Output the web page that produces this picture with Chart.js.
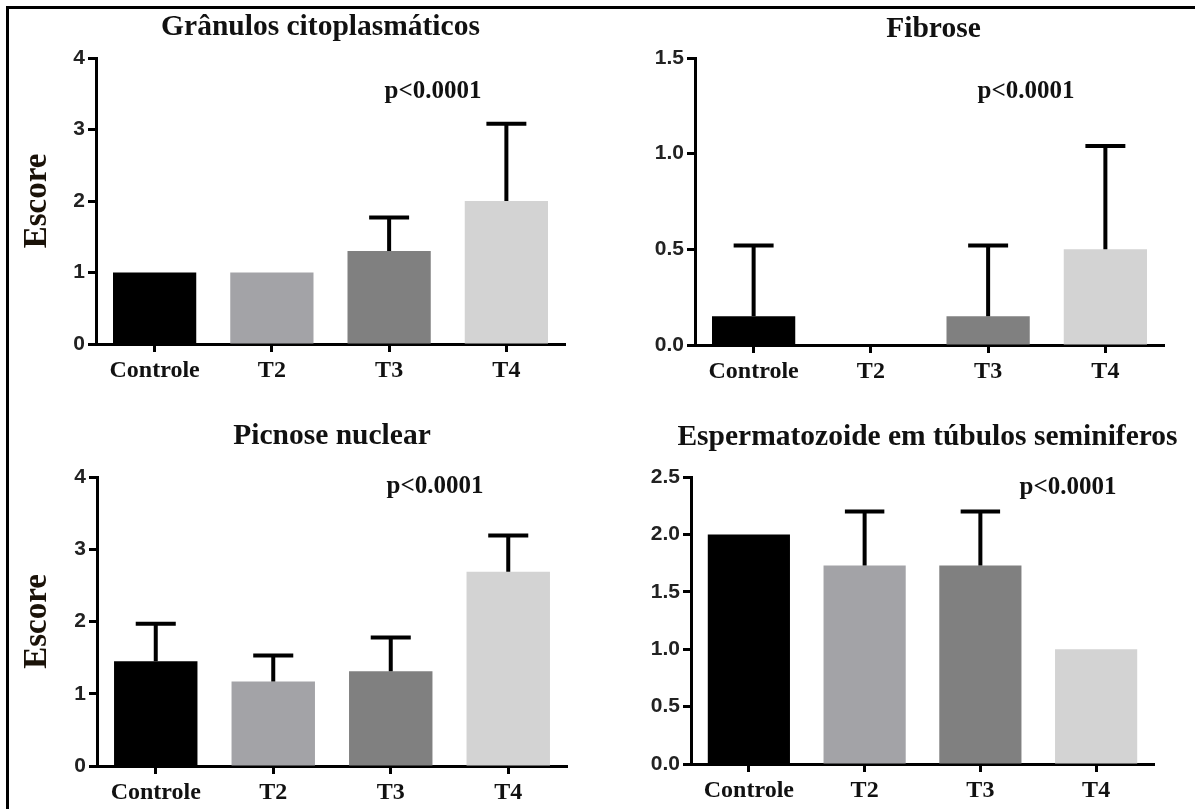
<!DOCTYPE html>
<html>
<head>
<meta charset="utf-8">
<script src="https://cdn.jsdelivr.net/npm/chart.js@4.4.1/dist/chart.umd.min.js"></script>
<style>
  html, body { margin: 0; padding: 0; background: #fff; }
  #fig { position: relative; width: 1195px; height: 809px; overflow: hidden; background: #fff; }
  #frame { position: absolute; left: 6px; top: 6px; width: 1200px; height: 820px;
           border-top: 3px solid #000; border-left: 3px solid #000; }
  canvas { position: absolute; }
</style>
</head>
<body>
<div id="fig">
  <div id="frame"></div>
  <canvas id="cGran" width="597" height="400" style="left:0px;top:0px"></canvas>
  <canvas id="cFib" width="598" height="400" style="left:597px;top:0px"></canvas>
  <canvas id="cPic" width="597" height="409" style="left:0px;top:400px"></canvas>
  <canvas id="cEsp" width="598" height="409" style="left:597px;top:400px"></canvas>
</div>
<script>
// Groups and scores (mean and mean + SD) for each histological finding
const categories = ['Controle', 'T2', 'T3', 'T4'];

const granulosMean = [1.0, 1.0, 1.3, 2.0];
const granulosUpper = [null, null, 1.77, 3.08];

const fibroseMean = [0.15, 0, 0.15, 0.5];
const fibroseUpper = [0.52, null, 0.52, 1.04];

const picnoseMean = [1.45, 1.17, 1.31, 2.69];
const picnoseUpper = [1.97, 1.53, 1.78, 3.19];

const espermMean = [2.0, 1.73, 1.73, 1.0];
const espermUpper = [null, 2.2, 2.2, null];

const ticksScore = [0, 1, 2, 3, 4];
const ticksFibrose = [0, 0.5, 1.0, 1.5];
const ticksEsperm = [0, 0.5, 1.0, 1.5, 2.0, 2.5];

const pLabel = 'p<0.0001';
const yTitle = 'Escore';

const barColors = ['#000000', '#a3a3a7', '#808080', '#d3d3d3'];

const SERIF = '"Liberation Serif", "Times New Roman", serif';
const SANS = '"Liberation Sans", Arial, sans-serif';

// Upward SD bars with a cap, placed through the chart's own scales
const errorBars = {
  id: 'errorBars',
  afterDatasetsDraw(chart, args, opts) {
    const meta = chart.getDatasetMeta(0);
    const y = chart.scales.y;
    const ctx = chart.ctx;
    const means = chart.data.datasets[0].data;
    ctx.save();
    ctx.strokeStyle = '#000';
    ctx.lineWidth = 4;
    ctx.lineCap = 'butt';
    opts.upper.forEach((u, i) => {
      if (u === null || u === undefined) return;
      const bar = meta.data[i];
      const x = bar.x;
      const y0 = y.getPixelForValue(means[i]);
      const y1 = y.getPixelForValue(u);
      const half = bar.width * 0.24;
      ctx.beginPath();
      ctx.moveTo(x, y0);
      ctx.lineTo(x, y1);
      ctx.moveTo(x - half, y1);
      ctx.lineTo(x + half, y1);
      ctx.stroke();
    });
    ctx.restore();
  }
};

// Panel heading, p-value note and the vertical axis caption
const panelText = {
  id: 'panelText',
  afterDraw(chart, args, opts) {
    const ctx = chart.ctx;
    const ca = chart.chartArea;
    ctx.save();
    ctx.fillStyle = '#111';
    ctx.textBaseline = 'alphabetic';
    ctx.textAlign = 'center';
    ctx.font = 'bold 29.5px ' + SERIF;
    ctx.fillText(opts.title, (ca.left + ca.right) / 2 + (opts.titleShift || 0), opts.titleBase);
    ctx.font = 'bold 25px ' + SERIF;
    ctx.fillText(pLabel, opts.pX, opts.pBase);
    if (opts.showY) {
      ctx.translate(37, (ca.top + ca.bottom) / 2);
      ctx.rotate(-Math.PI / 2);
      ctx.textBaseline = 'middle';
      ctx.font = 'bold 33px ' + SERIF;
      ctx.fillStyle = '#1a1208';
      ctx.fillText(yTitle, 0, 0);
    }
    ctx.restore();
  }
};

function makePanel(id, cfg) {
  const el = document.getElementById(id);
  const W = el.width, H = el.height;
  const tickVals = cfg.ticks;
  const maxV = tickVals[tickVals.length - 1];
  return new Chart(el, {
    type: 'bar',
    data: {
      labels: categories,
      datasets: [{
        data: cfg.mean,
        backgroundColor: barColors,
        borderWidth: 0,
        categoryPercentage: 1.0,
        barPercentage: 0.71
      }]
    },
    options: {
      responsive: false,
      animation: false,
      devicePixelRatio: 1,
      layout: {
        autoPadding: false,
        padding: { top: cfg.top, right: W - cfg.right, left: 0, bottom: 0 }
      },
      plugins: {
        legend: { display: false },
        tooltip: { enabled: false },
        title: { display: false },
        errorBars: { upper: cfg.upper },
        panelText: {
          title: cfg.title, titleBase: cfg.titleBase, titleShift: cfg.titleShift,
          pX: cfg.pX, pBase: cfg.pBase, showY: cfg.showY
        }
      },
      scales: {
        x: {
          z: 1,
          offset: true,
          grid: { display: true, offset: false, drawOnChartArea: false, drawTicks: true,
                  tickLength: 8, tickWidth: 3, tickColor: '#000' },
          border: { display: true, color: '#000', width: 3 },
          ticks: { color: '#111', padding: 4, maxRotation: 0, autoSkip: false,
                   font: { family: SERIF, size: 24, weight: 'bold' } },
          afterFit(s) { s.height = H - cfg.bottom; }
        },
        y: {
          z: 1,
          min: 0,
          max: maxV,
          grid: { display: true, drawOnChartArea: false, drawTicks: true,
                  tickLength: 8, tickWidth: 3, tickColor: '#000' },
          border: { display: true, color: '#000', width: 3 },
          afterBuildTicks(s) { s.ticks = tickVals.map(v => ({ value: v })); },
          ticks: {
            color: '#222', padding: 3,
            font: { family: SANS, size: 21, weight: 'bold' },
            callback: (v) => cfg.decimals ? Number(v).toFixed(cfg.decimals) : String(v)
          },
          afterFit(s) { s.width = cfg.left; }
        }
      }
    },
    plugins: [errorBars, panelText]
  });
}

makePanel('cGran', {
  title: 'Grânulos citoplasmáticos', mean: granulosMean, upper: granulosUpper,
  ticks: ticksScore, decimals: 0, left: 96, right: 565, top: 58, bottom: 344,
  titleBase: 35, titleShift: -10, pX: 433, pBase: 98, showY: true
});
makePanel('cFib', {
  title: 'Fibrose', mean: fibroseMean, upper: fibroseUpper,
  ticks: ticksFibrose, decimals: 1, left: 98, right: 567, top: 58, bottom: 345,
  titleBase: 37, titleShift: 4, pX: 429, pBase: 98, showY: false
});
makePanel('cPic', {
  title: 'Picnose nuclear', mean: picnoseMean, upper: picnoseUpper,
  ticks: ticksScore, decimals: 0, left: 97, right: 567, top: 77, bottom: 366,
  titleBase: 44, titleShift: 0, pX: 435, pBase: 93, showY: true
});
makePanel('cEsp', {
  title: 'Espermatozoide em túbulos seminiferos', mean: espermMean, upper: espermUpper,
  ticks: ticksEsperm, decimals: 1, left: 94, right: 557, top: 77, bottom: 364,
  titleBase: 45, titleShift: 5, pX: 471, pBase: 94, showY: false
});
</script>
</body>
</html>
